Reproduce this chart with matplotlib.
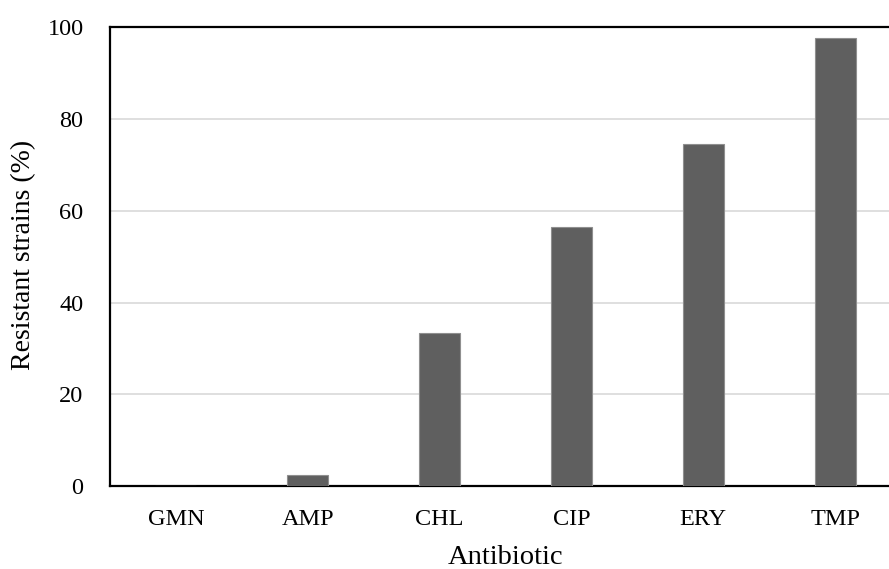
import numpy as np
import matplotlib.pyplot as plt

antibiotics = ['GMN', 'AMP', 'CHL', 'CIP', 'ERY', 'TMP']
resistant = [0.0, 2.6, 33.3, 56.4, 74.4, 97.4]
yticks = [0, 20, 40, 60, 80, 100]

plt.rcParams['font.family'] = ['Liberation Serif', 'DejaVu Serif']

fig = plt.figure(figsize=(8.89, 5.69), dpi=100)
# the right edge of the plot area runs past the image, as in the original
ax = fig.add_axes([0.1237, 0.145, 0.8898, 0.8084])

x = np.arange(len(antibiotics))
ax.bar(x, resistant, width=0.31, color='#5f5f5f', edgecolor='#8f8f8f',
       linewidth=0.8, zorder=3)

ax.set_xlim(-0.5, len(antibiotics) - 0.5)
ax.set_ylim(0, 100)
ax.set_yticks(yticks)
ax.set_xticks(x)
ax.set_xticklabels(antibiotics)
ax.tick_params(axis='both', length=0, labelsize=17.5)
ax.tick_params(axis='x', pad=16)
ax.tick_params(axis='y', pad=19)

ax.yaxis.grid(True, color='#d9d9d9', linewidth=1.2, zorder=0)
ax.set_axisbelow(True)

for side in ['left', 'bottom', 'top', 'right']:
  ax.spines[side].set_color('black')
  ax.spines[side].set_linewidth(1.6)

ax.set_xlabel('Antibiotic', fontsize=20.5, va='baseline')
ax.xaxis.set_label_coords(0.5, -0.1675)
ax.set_ylabel('Resistant strains (%)', fontsize=20, va='center')
ax.yaxis.set_label_coords(-0.109, 0.503)

fig.savefig('out.png', dpi=100)
plt.close(fig)
